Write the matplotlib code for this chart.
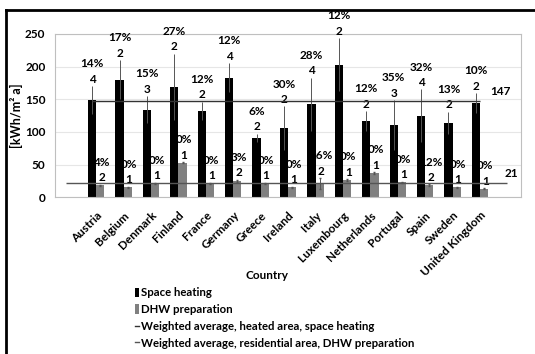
import numpy as np
import matplotlib.pyplot as plt
from matplotlib.lines import Line2D

countries = ['Austria', 'Belgium', 'Denmark', 'Finland', 'France', 'Germany',
             'Greece', 'Ireland', 'Italy', 'Luxembourg', 'Netherlands',
             'Portugal', 'Spain', 'Sweden', 'United Kingdom']
space_heating = [149, 180, 134, 169, 132, 183, 91, 106, 142, 203, 117, 111, 125, 114, 144]
space_err = [21, 30, 21, 51, 14, 22, 6, 33, 41, 41, 15, 38, 40, 17, 15]
space_n = [4, 2, 3, 2, 2, 4, 2, 2, 4, 2, 2, 3, 4, 2, 2]
space_pct = ['14%', '17%', '15%', '27%', '12%', '12%', '6%', '30%', '28%', '12%',
             '12%', '35%', '32%', '13%', '10%']
dhw = [18, 15, 21, 53, 21, 25, 21, 15, 21, 26, 37, 23, 18, 15, 13]
dhw_err = [1, 1, 1, 1, 1, 1.5, 1, 1, 8, 1.5, 1, 1, 1.5, 1, 1]
dhw_n = [2, 1, 1, 1, 1, 2, 1, 1, 2, 1, 1, 1, 2, 1, 1]
dhw_pct = ['4%', '0%', '0%', '0%', '0%', '3%', '0%', '0%', '26%', '0%', '0%', '0%',
           '12%', '0%', '0%']
avg_space = 147
avg_dhw = 21

plt.rcParams['font.family'] = ['Lato', 'DejaVu Sans']

fig = plt.figure(figsize=(5.35, 3.54), dpi=100)
ax = fig.add_axes([0.103, 0.443, 0.871, 0.461])

x = np.arange(len(countries))
w = 0.3
bars1 = ax.bar(x - 0.15, space_heating, w, color='black', zorder=2)
bars2 = ax.bar(x + 0.15, dhw, w, color='#808080', zorder=2)
ax.errorbar(x - 0.15, space_heating, yerr=space_err, fmt='none', ecolor='#555555',
            elinewidth=0.7, capsize=0, zorder=3)
ax.errorbar(x + 0.15, dhw, yerr=dhw_err, fmt='none', ecolor='#555555',
            elinewidth=0.7, capsize=1, zorder=3)

ax.hlines(avg_space, -0.15, 14.0, color='#333333', lw=1, zorder=4)
ax.hlines(avg_dhw, -1.1, 15.0, color='#555555', lw=1, zorder=4)

lab = dict(ha='center', va='bottom', fontsize=8.5, fontweight='bold',
           linespacing=1.5, annotation_clip=False)
for i in range(len(countries)):
    ax.annotate(f'{space_pct[i]}\n{space_n[i]}',
                (x[i] - 0.15, space_heating[i] + space_err[i]),
                xytext=(0, 1), textcoords='offset points', **lab)
    ax.annotate(f'{dhw_pct[i]}\n{dhw_n[i]}',
                (x[i] + 0.2, dhw[i] + dhw_err[i]),
                xytext=(0, 1), textcoords='offset points', **lab)

ax.annotate(str(avg_space), (14.75, avg_space), xytext=(0, 3),
            textcoords='offset points', ha='center', va='bottom',
            fontsize=8.5, fontweight='bold')
ax.annotate(str(avg_dhw), (15.15, avg_dhw), xytext=(0, 3),
            textcoords='offset points', ha='center', va='bottom',
            fontsize=8.5, fontweight='bold')

ax.set_xlim(-1.5, 15.5)
ax.set_ylim(0, 250)
ax.set_yticks(range(0, 251, 50))
ax.set_xticks(x)
ax.set_xticklabels(countries, rotation=45, ha='right', rotation_mode='anchor',
                   fontsize=8.5, fontweight='bold')
for t in ax.get_yticklabels():
    t.set_fontweight('bold')
    t.set_fontsize(8.5)
ax.tick_params(axis='y', length=0, pad=7)
ax.tick_params(axis='x', length=0, pad=9)
ax.yaxis.grid(True, color='#e6e6e6', lw=0.8, zorder=0)
ax.set_axisbelow(True)
for s in ax.spines.values():
    s.set_color('#bfbfbf')
    s.set_linewidth(0.8)

ax.set_ylabel('[kWh/m² a]', fontsize=9, fontweight='bold', va='center')
ax.yaxis.set_label_coords(-0.083, 0.5)
fig.text(0.5, 0.223, 'Country', ha='center', va='center', fontsize=8.5,
         fontweight='bold')

h_line1 = Line2D([], [], color='#333333', lw=1)
h_line2 = Line2D([], [], color='#555555', lw=1)
leg = fig.legend([bars1, bars2, h_line1, h_line2],
                 ['Space heating', 'DHW preparation',
                  'Weighted average, heated area, space heating',
                  'Weighted average, residential area, DHW preparation'],
                 loc='upper left', bbox_to_anchor=(0.252, 0.188),
                 frameon=False, fontsize=8.2, handlelength=0.4, handleheight=0.9,
                 handletextpad=0.15, labelspacing=0.5, borderaxespad=0,
                 borderpad=0)
for t in leg.get_texts():
    t.set_fontweight('bold')

fig.add_artist(Line2D([6 / 535, 1], [1 - 10 / 354] * 2, color='black', lw=2,
                      transform=fig.transFigure))
fig.add_artist(Line2D([6 / 535] * 2, [1 - 10 / 354, 0], color='black', lw=2,
                      transform=fig.transFigure))

fig.savefig('out.png', dpi=100)
